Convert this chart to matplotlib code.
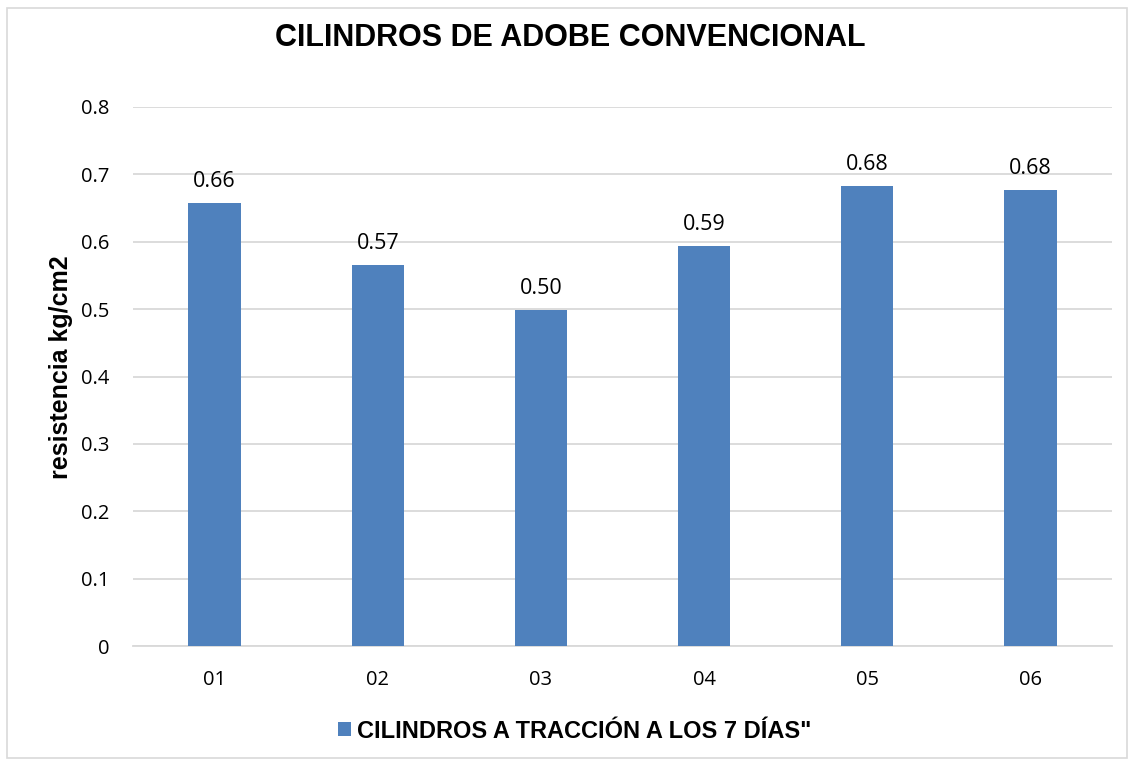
import matplotlib.pyplot as plt
from matplotlib.patches import Rectangle

categorias = ["01", "02", "03", "04", "05", "06"]
resistencia = [0.657, 0.566, 0.499, 0.594, 0.683, 0.677]
etiquetas = ["0.66", "0.57", "0.50", "0.59", "0.68", "0.68"]
serie = 'CILINDROS A TRACCIÓN A LOS 7 DÍAS"'

azul = "#4f81bd"

fig = plt.figure(figsize=(11.34, 7.62), dpi=100)
ax = fig.add_axes([133 / 1134, 1 - 646 / 762, 979 / 1134, 539 / 762])

x = list(range(len(categorias)))
barras = ax.bar(x, resistencia, width=0.32, color=azul, zorder=3, label=serie)

for b, txt in zip(barras, etiquetas):
    ax.annotate(txt, (b.get_x() + b.get_width() / 2, b.get_height()),
                xytext=(0, 8), textcoords="offset points", ha="center",
                va="bottom", fontsize=15.5, family="Open Sans")

ax.set_xlim(-0.5, 5.5)
ax.set_ylim(0, 0.8)
ax.set_yticks([0, 0.1, 0.2, 0.3, 0.4, 0.5, 0.6, 0.7, 0.8])
ax.set_yticklabels(["0", "0.1", "0.2", "0.3", "0.4", "0.5", "0.6", "0.7", "0.8"])
ax.set_xticks(x)
ax.set_xticklabels(categorias)
for lbl in ax.get_xticklabels() + ax.get_yticklabels():
    lbl.set_family("Open Sans")
    lbl.set_fontsize(14.5)
ax.tick_params(length=0)
ax.tick_params(axis="x", pad=17)
ax.tick_params(axis="y", pad=17)

ax.grid(axis="y", color="#d9d9d9", linewidth=1.3, zorder=0)
for s in ["top", "right", "left"]:
    ax.spines[s].set_visible(False)
ax.spines["bottom"].set_color("#d9d9d9")
ax.spines["bottom"].set_linewidth(1.3)

ax.set_ylabel("resistencia kg/cm2", fontsize=18, fontweight="bold",
              family="Liberation Sans")
ax.yaxis.set_label_coords((73 - 133) / 979, 0.518)

fig.text(570 / 1134, 1 - 38 / 762, "CILINDROS DE ADOBE CONVENCIONAL",
         ha="center", va="center", fontsize=22, fontweight="bold",
         family="Liberation Sans")

leg = fig.legend(handles=[barras], labels=[serie], loc="center",
                 bbox_to_anchor=(575 / 1134, 1 - 731 / 762), frameon=False,
                 handlelength=0.55, handleheight=0.55, handletextpad=0.25,
                 prop={"family": "Liberation Sans", "weight": "bold", "size": 17})

fig.patches.append(Rectangle((7 / 1134, 1 - 758 / 762), 1120 / 1134, 750 / 762,
                             transform=fig.transFigure, fill=False,
                             edgecolor="#d9d9d9", linewidth=1.2))

fig.savefig("out.png", dpi=100)
